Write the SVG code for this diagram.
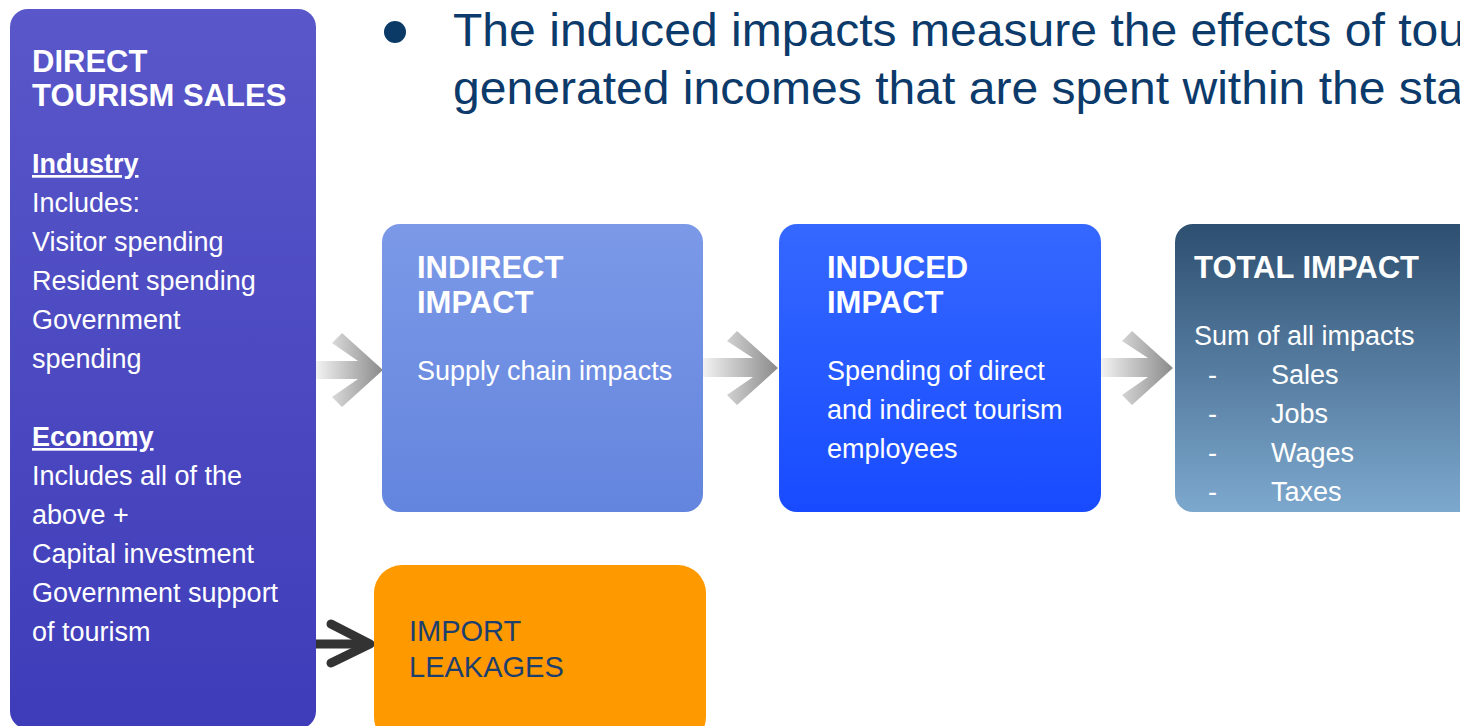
<svg xmlns="http://www.w3.org/2000/svg" width="1460" height="726" viewBox="0 0 1460 726">
<defs>
<linearGradient id="gDirect" x1="0" y1="0" x2="0" y2="1"><stop offset="0" stop-color="#5957C9"/><stop offset="1" stop-color="#3F3CB9"/></linearGradient>
<linearGradient id="gIndirect" x1="0" y1="0" x2="0" y2="1"><stop offset="0" stop-color="#7B99E7"/><stop offset="1" stop-color="#6485DE"/></linearGradient>
<linearGradient id="gInduced" x1="0" y1="0" x2="0" y2="1"><stop offset="0" stop-color="#3568FF"/><stop offset="1" stop-color="#184BFF"/></linearGradient>
<linearGradient id="gTotal" x1="0" y1="0" x2="0" y2="1"><stop offset="0" stop-color="#2D4F70"/><stop offset="1" stop-color="#7DA8CE"/></linearGradient>
<linearGradient id="gArrow" x1="0" y1="0" x2="1" y2="0"><stop offset="0" stop-color="#F2F2F2"/><stop offset="1" stop-color="#8A8A8A"/></linearGradient>
</defs>
<style>
.t{font-family:"Liberation Sans",Arial,sans-serif;fill:#fff}
.b{font-weight:bold;font-size:31px}
.h{font-weight:bold;font-size:27px;text-decoration:underline}
.r{font-size:27px}
.hd{font-family:"Liberation Sans",Arial,sans-serif;font-size:47px;fill:#0B3A6B}
.garrow{fill:url(#gArrow)}
</style>
<rect width="1460" height="726" fill="#fff"/>
<g id="heading">
<circle cx="395" cy="32" r="11" fill="#0B3A66"/>
<text class="hd" x="453" y="46" textLength="1012" lengthAdjust="spacingAndGlyphs">The induced impacts measure the effects of tou</text>
<text class="hd" x="453" y="104" textLength="1010" lengthAdjust="spacingAndGlyphs">generated incomes that are spent within the sta</text>
</g>
<g id="connectors">
<path class="garrow" d="M316,361 H358 L332,343 L342,333 L383,370 L342,407 L332,397 L358,379 H316 Z"/>
<path class="garrow" d="M703,358 H753 L727,341 L737,331 L778,368 L737,405 L727,395 L753,377 H703 Z"/>
<path class="garrow" d="M1101,358 H1148 L1122,341 L1132,331 L1173,368 L1132,405 L1122,395 L1148,377 H1101 Z"/>
<g fill="none" stroke="#333" stroke-width="9" stroke-linecap="round" stroke-linejoin="round">
<path d="M316,644 H366"/>
<path d="M331,624 L370,644 L331,663"/>
</g>
</g>
<g id="direct">
<rect x="10" y="9" width="306" height="720" rx="18" fill="url(#gDirect)"/>
<text class="t b" x="32" y="72">DIRECT</text>
<text class="t b" x="32" y="106">TOURISM SALES</text>
<text class="t h" x="32" y="173">Industry</text>
<text class="t r" x="32" y="212">Includes:</text>
<text class="t r" x="32" y="251">Visitor spending</text>
<text class="t r" x="32" y="290">Resident spending</text>
<text class="t r" x="32" y="329">Government</text>
<text class="t r" x="32" y="368">spending</text>
<text class="t h" x="32" y="446">Economy</text>
<text class="t r" x="32" y="485">Includes all of the</text>
<text class="t r" x="32" y="524">above +</text>
<text class="t r" x="32" y="563">Capital investment</text>
<text class="t r" x="32" y="602">Government support</text>
<text class="t r" x="32" y="641">of tourism</text>
</g>
<g id="indirect">
<rect x="382" y="224" width="321" height="288" rx="18" fill="url(#gIndirect)"/>
<text class="t b" x="417" y="278">INDIRECT</text>
<text class="t b" x="417" y="313">IMPACT</text>
<text class="t r" x="417" y="380">Supply chain impacts</text>
</g>
<g id="induced">
<rect x="779" y="224" width="322" height="288" rx="18" fill="url(#gInduced)"/>
<text class="t b" x="827" y="278">INDUCED</text>
<text class="t b" x="827" y="313">IMPACT</text>
<text class="t r" x="827" y="380">Spending of direct</text>
<text class="t r" x="827" y="419">and indirect tourism</text>
<text class="t r" x="827" y="458">employees</text>
</g>
<g id="total">
<rect x="1175" y="224" width="310" height="288" rx="18" fill="url(#gTotal)"/>
<text class="t b" x="1194" y="278">TOTAL IMPACT</text>
<text class="t r" x="1194" y="345">Sum of all impacts</text>
<text class="t r" x="1208" y="384">-</text><text class="t r" x="1271" y="384">Sales</text>
<text class="t r" x="1208" y="423">-</text><text class="t r" x="1271" y="423">Jobs</text>
<text class="t r" x="1208" y="462">-</text><text class="t r" x="1271" y="462">Wages</text>
<text class="t r" x="1208" y="501">-</text><text class="t r" x="1271" y="501">Taxes</text>
</g>
<g id="leakages">
<rect x="374" y="565" width="332" height="180" rx="28" fill="#FF9900"/>
<text x="409" y="641" font-family="Liberation Sans, Arial, sans-serif" font-size="29" fill="#1C3F6E">IMPORT</text>
<text x="409" y="677" font-family="Liberation Sans, Arial, sans-serif" font-size="29" fill="#1C3F6E">LEAKAGES</text>
</g>
</svg>
